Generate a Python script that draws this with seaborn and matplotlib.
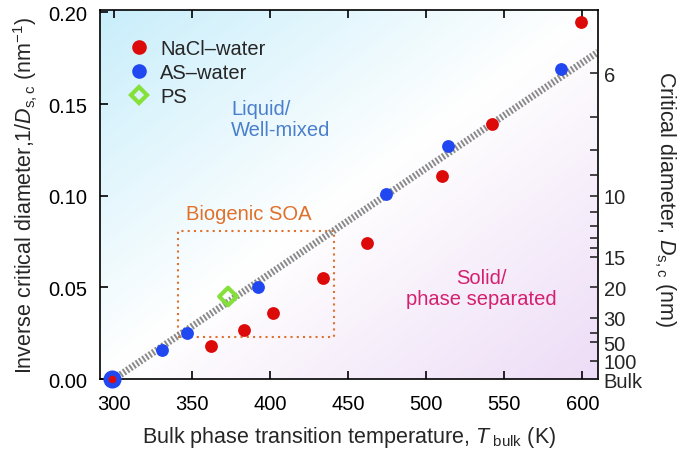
import matplotlib
matplotlib.use("Agg")
import numpy as np
import pandas as pd
import seaborn as sns
import matplotlib.pyplot as plt
from matplotlib.colors import LinearSegmentedColormap
from matplotlib.lines import Line2D

# ---------------- data ----------------
nacl_T = [299, 362, 383, 402, 434, 462, 510, 542, 599]
nacl_inv = [0.0, 0.018, 0.027, 0.036, 0.055, 0.074, 0.111, 0.139, 0.195]
as_T = [299, 331, 347, 392, 474, 514, 586]
as_inv = [0.0, 0.016, 0.025, 0.050, 0.101, 0.127, 0.169]
ps_T = [373]
ps_inv = [0.045]
fit_T = [300, 610]
fit_inv = [0.0, 0.1784]
soa_T = [341, 441]
soa_inv = [0.023, 0.081]
x_ticks = [300, 350, 400, 450, 500, 550, 600]
y_ticks = [0.00, 0.05, 0.10, 0.15, 0.20]
d_major = [6, 10, 15, 20, 30, 50, 100]
d_minor = [7, 8, 9, 11, 12, 13, 14, 40]

sns.set_theme(style="ticks")
plt.rcParams["font.family"] = ["Liberation Sans", "DejaVu Sans"]
plt.rcParams["mathtext.fontset"] = "custom"
plt.rcParams["mathtext.rm"] = "Liberation Sans"
plt.rcParams["mathtext.it"] = "Liberation Sans:italic"

FS = 14.5
LFS = 15.5
fig = plt.figure(figsize=(6.85, 4.56), dpi=100)
ax = fig.add_axes([100 / 685, 1 - 380 / 456, 498 / 685, 369 / 456])

# background gradient
cmap = LinearSegmentedColormap.from_list("bg", ["#c9eefb", "#ffffff", "#eddcf6"])
gx, gy = np.meshgrid(np.linspace(0, 1, 200), np.linspace(1, 0, 200))
grad = (gx + (1 - gy)) / 2
ax.imshow(grad, extent=[0, 1, 0, 1], transform=ax.transAxes, aspect="auto",
          cmap=cmap, zorder=0, interpolation="bicubic", origin="upper")

# fit line
fit_df = pd.DataFrame({"T": fit_T, "inv": fit_inv})
sns.lineplot(data=fit_df, x="T", y="inv", ax=ax, color="#8a8a8a", lw=5,
             dashes=False, zorder=2)
ax.lines[-1].set_dashes((0.28, 0.28))
ax.lines[-1].set_dash_capstyle("butt")

# biogenic SOA box
ax.plot([soa_T[0], soa_T[1], soa_T[1], soa_T[0], soa_T[0]],
        [soa_inv[0], soa_inv[0], soa_inv[1], soa_inv[1], soa_inv[0]],
        ls=(0, (1, 2)), color="#e0702a", lw=1.5, zorder=1)

red = "#dd0a0a"
blue = "#2147f0"
green = "#86e03a"

nacl_df = pd.DataFrame({"T": nacl_T, "inv": nacl_inv})
as_df = pd.DataFrame({"T": as_T, "inv": as_inv})
ps_df = pd.DataFrame({"T": ps_T, "inv": ps_inv})

sns.scatterplot(data=as_df.iloc[1:], x="T", y="inv", ax=ax, color=blue, s=85,
                linewidth=0, zorder=4)
sns.scatterplot(data=nacl_df.iloc[1:], x="T", y="inv", ax=ax, color=red, s=85,
                linewidth=0, zorder=4)
sns.scatterplot(data=as_df.iloc[:1], x="T", y="inv", ax=ax, color=blue, s=170,
                linewidth=0, zorder=5, clip_on=False)
sns.scatterplot(data=nacl_df.iloc[:1], x="T", y="inv", ax=ax, color=red, s=30,
                linewidth=0, zorder=6, clip_on=False)
sns.scatterplot(data=ps_df, x="T", y="inv", ax=ax, marker="D", s=80,
                facecolor="none", edgecolor=green, linewidth=3, zorder=5)

ax.set_xlim(291, 610)
ax.set_ylim(0, 0.2013)
ax.set_xticks(x_ticks)
ax.set_yticks(y_ticks)
ax.set_yticklabels([f"{v:.2f}" for v in y_ticks])
ax.tick_params(axis="both", direction="in", length=6, width=1.2, labelsize=FS,
               top=True, right=False, colors="black")
ax.tick_params(axis="x", pad=11)
ax.tick_params(axis="y", pad=9)
for sp in ax.spines.values():
    sp.set_visible(True)
    sp.set_linewidth(1.2)
    sp.set_color("black")

ax.set_xlabel(r"Bulk phase transition temperature, $T_{\mathrm{\ bulk}}$ (K)",
              fontsize=LFS, labelpad=8)
ax.set_ylabel(r"Inverse critical diameter,1/$D_{\mathrm{s,c}}$ (nm$^{-1}$)",
              fontsize=LFS, labelpad=6)

# right axis
ax2 = ax.twinx()
ax2.set_ylim(ax.get_ylim())
ax2.set_yticks([1 / d for d in d_major] + [0.0])
ax2.set_yticklabels([str(d) for d in d_major] + ["Bulk"])
ax2.set_yticks([1 / d for d in d_minor], minor=True)
ax2.tick_params(axis="y", which="both", direction="in", length=6, width=1.2,
                labelsize=FS, pad=4)
ax2.set_ylabel(r"Critical diameter, $D_{\mathrm{s,c}}$ (nm)", fontsize=LFS,
               rotation=270)
ax2.yaxis.set_label_coords(1.16, 0.49)
for sp in ax2.spines.values():
    sp.set_visible(False)

# annotations
ax.text(375, 0.1418, "Liquid/\nWell-mixed", color="#4a7fcc", fontsize=FS,
        ha="left", va="center", linespacing=1.15)
ax.text(535, 0.0496, "Solid/\nphase separated", color="#d4206e", fontsize=FS,
        ha="center", va="center", linespacing=1.15)
ax.text(386, 0.0905, "Biogenic SOA", color="#e0702a", fontsize=FS,
        ha="center", va="center")

handles = [
    Line2D([], [], marker="o", ls="none", color=red, markersize=9.5),
    Line2D([], [], marker="o", ls="none", color=blue, markersize=9.5),
    Line2D([], [], marker="D", ls="none", markerfacecolor="none",
           markeredgecolor=green, markeredgewidth=3, markersize=8),
]
ax.legend(handles, ["NaCl\u2013water", "AS\u2013water", "PS"], loc="upper left",
          bbox_to_anchor=(0.012, 0.97), frameon=False, fontsize=FS,
          handletextpad=0.3, labelspacing=0.25, borderaxespad=0.5,
          handlelength=1.5)

fig.savefig("out.png", dpi=100)
